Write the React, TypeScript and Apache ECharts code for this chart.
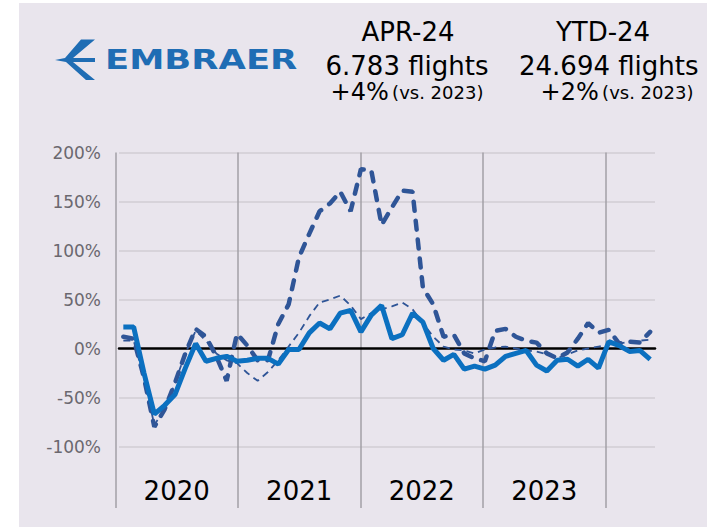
import { useEffect, useRef } from 'react';
import * as echarts from 'echarts';

const FONT = 'DejaVu Sans';

const years = ['2020', '2021', '2022', '2023'];
const monthNames = ['Jan', 'Feb', 'Mar', 'Apr', 'May', 'Jun', 'Jul', 'Aug', 'Sep', 'Oct', 'Nov', 'Dec'];
const months: string[] = [];
for (const y of [2020, 2021, 2022, 2023, 2024]) {
  monthNames.forEach((m, k) => {
    if (y < 2024 || k < 4) months.push(`${m} ${y}`);
  });
}

// YoY change (%) by month, Jan 2020 – Apr 2024
const totalYoY = [22, 22, -25, -67, -58, -47, -20, 5, -13, -10, -8, -13, -12, -10, -10, -16, -1, -1, 16, 26, 20, 36, 39, 17, 34, 44, 10, 14, 36, 27, 0, -12, -6, -21, -18, -21, -17, -8, -5, -2, -17, -23, -12, -11, -18, -11, -20, 7, 3, -3, -2, -11];
const thickYoY = [12, 10, -30, -80, -62, -35, -5, 20, 12, -8, -33, 15, 3, -12, -12, 25, 45, 93, 117, 140, 148, 160, 140, 183, 182, 126, 144, 161, 160, 62, 45, 12, 14, -5, -10, -13, 18, 20, 12, 8, 6, -5, -10, -4, 10, 26, 16, 19, 5, 7, 6, 17];
const thinYoY = [8, 8, -30, -78, -62, -35, -5, 18, 8, -5, -12, -15, -25, -33, -24, -12, 2, 16, 33, 47, 50, 54, 44, 30, 36, 40, 43, 47, 40, 26, 12, 2, -1, -2, -5, -1, 1, 2, 0, -2, -3, -6, -10, -6, -2, 0, 2, 4, 5, 7, 8, 9];

const yMin = -150;
const yMax = 200;
const yStep = 50;

const aprTitle = 'APR-24';
const aprFlights = '6.783 flights';
const aprChange = '+4%';
const ytdTitle = 'YTD-24';
const ytdFlights = '24.694 flights';
const ytdChange = '+2%';
const vsText = '(vs. 2023)';

const BG = '#e9e5ed';
const LOGO = '#1f6db4';
const GRID = '#d7d3da';

export default function App() {
  const ref = useRef<HTMLDivElement>(null);
  useEffect(() => {
    document.body.style.margin = '0';
    const chart = echarts.init(ref.current!, null, { renderer: 'svg' });
    const splitColors: string[] = [];
    for (let v = yMin; v <= yMax; v += yStep) {
      splitColors.push(v === yMin || v === 0 ? 'rgba(0,0,0,0)' : GRID);
    }
    const richChange = {
      big: { fontSize: 24, fontFamily: FONT, fill: '#000', color: '#000', lineHeight: 21 },
      small: { fontSize: 18, fontFamily: FONT, fill: '#000', color: '#000', lineHeight: 21 },
    };
    const option: any = {
      animation: false,
      backgroundColor: BG,
      graphic: [
        { type: 'rect', shape: { x: 0, y: 0, width: 19, height: 527 }, style: { fill: '#fff' }, silent: true },
        { type: 'rect', shape: { x: 0, y: 0, width: 707, height: 3 }, style: { fill: '#fff' }, silent: true },
        {
          type: 'polygon',
          shape: { points: [[55, 60], [65, 58], [81, 39.5], [95, 39.5], [73, 58], [95, 58], [95, 62], [73, 62], [95, 80], [86, 80], [66, 62]] },
          style: { fill: LOGO },
        },
        {
          type: 'text', x: 105, y: 60, scaleX: 1.31,
          style: { text: 'EMBRAER', fontSize: 27, fontWeight: 'bold', fontFamily: FONT, fill: LOGO, align: 'left', verticalAlign: 'middle' },
        },
        { type: 'text', x: 408, y: 32, style: { text: aprTitle, fontSize: 26, lineHeight: 24, fontFamily: FONT, fill: '#000', align: 'center', verticalAlign: 'middle' } },
        { type: 'text', x: 407, y: 65.5, style: { text: aprFlights, fontSize: 26, lineHeight: 22, fontFamily: FONT, fill: '#000', align: 'center', verticalAlign: 'middle' } },
        { type: 'text', x: 407, y: 92, style: { text: `{big|${aprChange}} {small|${vsText}}`, rich: richChange, align: 'center', verticalAlign: 'middle' } },
        { type: 'text', x: 603, y: 32, style: { text: ytdTitle, fontSize: 26, lineHeight: 24, fontFamily: FONT, fill: '#000', align: 'center', verticalAlign: 'middle' } },
        { type: 'text', x: 519, y: 65.5, style: { text: ytdFlights, fontSize: 26, lineHeight: 22, fontFamily: FONT, fill: '#000', align: 'left', verticalAlign: 'middle' } },
        { type: 'text', x: 617, y: 92, style: { text: `{big|${ytdChange}} {small|${vsText}}`, rich: richChange, align: 'center', verticalAlign: 'middle' } },
      ],
      grid: [
        { left: 119, right: 52, top: 152.5, bottom: 31.5 },
        { left: 115.4, right: 101.5, top: 152.5, bottom: 19 },
      ],
      xAxis: [
        {
          type: 'value', gridIndex: 0, min: -0.42, max: 51.47,
          axisLine: { show: true, onZero: true, lineStyle: { color: '#000', width: 2.5 } },
          axisTick: { show: false }, axisLabel: { show: false }, splitLine: { show: false },
        },
        {
          type: 'category', gridIndex: 1, data: years, boundaryGap: true,
          axisLine: { show: false }, axisTick: { show: false },
          splitLine: { show: true, lineStyle: { color: '#a29fa6', width: 1.5 } },
          axisLabel: { inside: true, margin: 4, color: '#000', fontSize: 26, fontFamily: FONT },
        },
      ],
      yAxis: [
        {
          type: 'value', gridIndex: 0, min: yMin, max: yMax, interval: yStep,
          axisLine: { show: false }, axisTick: { show: false },
          axisLabel: {
            formatter: (v: number) => (v === yMin ? '' : `${v}%`),
            color: '#6b686f', fontSize: 17, fontFamily: FONT, margin: 18,
          },
          splitLine: { show: true, lineStyle: { color: splitColors, width: 2 } },
        },
        { type: 'value', gridIndex: 1, show: false, min: 0, max: 1 },
      ],
      series: [
        {
          name: 'Thin dashed', type: 'line', xAxisIndex: 0, yAxisIndex: 0,
          data: thinYoY.map((v, i) => [i, v]), symbol: 'none', z: 3,
          lineStyle: { color: '#2f5597', width: 1.8, type: [7, 5] },
        },
        {
          name: 'Thick dashed', type: 'line', xAxisIndex: 0, yAxisIndex: 0,
          data: thickYoY.map((v, i) => [i, v]), symbol: 'none', z: 4,
          lineStyle: { color: '#2f5597', width: 4.5, type: [9, 10], cap: 'round' },
        },
        {
          name: 'Total', type: 'line', xAxisIndex: 0, yAxisIndex: 0,
          data: totalYoY.map((v, i) => [i, v]), symbol: 'none', z: 5,
          lineStyle: { color: '#0b70c0', width: 5 },
        },
      ],
    };
    chart.setOption(option);
    return () => chart.dispose();
  }, []);
  return <div ref={ref} style={{ width: 707, height: 527 }} data-months={months.length} />;
}
